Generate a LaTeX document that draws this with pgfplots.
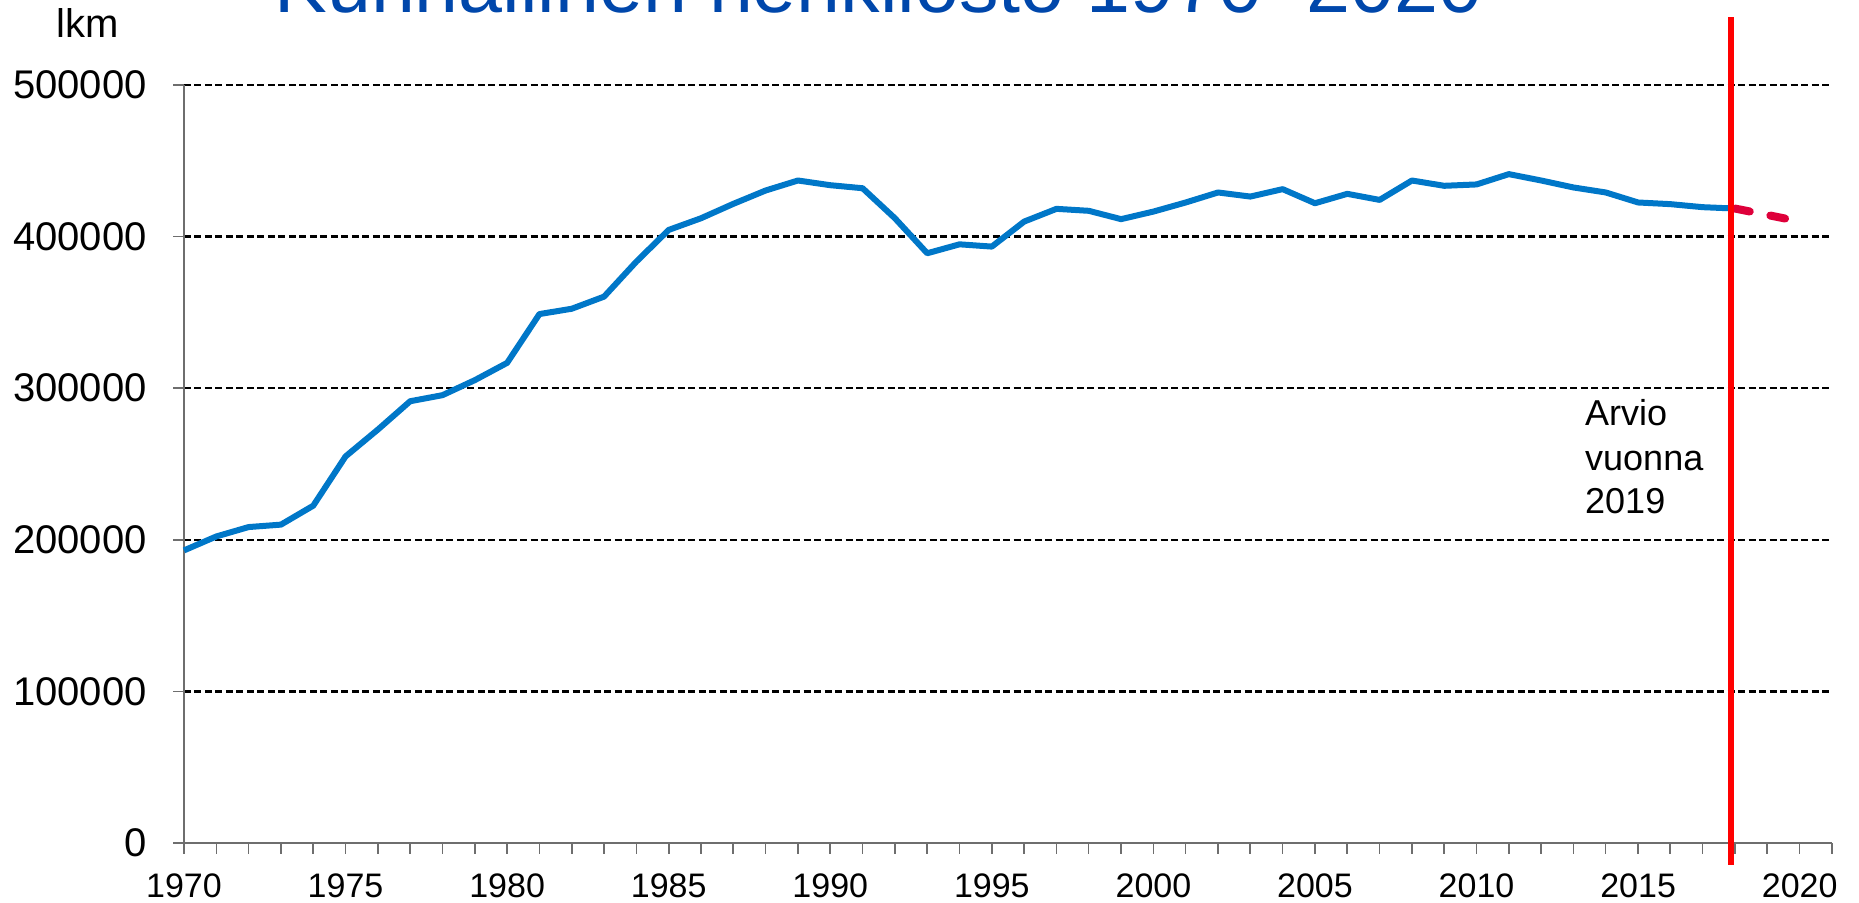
\documentclass[border=0pt]{standalone}
\usepackage{pgfplots}
\pgfplotsset{compat=1.18}
\usepackage{fontspec}
\setmainfont{Liberation Sans}
\definecolor{lineblue}{RGB}{0,119,200}
\definecolor{titleblue}{RGB}{0,71,171}
\definecolor{estred}{RGB}{222,0,58}
\definecolor{axgray}{RGB}{110,110,110}
\begin{document}
\begin{tikzpicture}
\begin{axis}[
  at={(0,0)}, anchor=south west,
  scale only axis, width=824pt, height=379pt,
  xmin=1970, xmax=2021, ymin=0, ymax=500000,
  axis x line*=bottom, axis y line*=left,
  axis line style={axgray, line width=0.8pt},
  xtick={1970,1975,...,2020},
  minor xtick={1971,...,2021},
  ytick={0,100000,...,500000},
  tick align=outside,
  major tick length=5.5pt, minor tick length=5.5pt,
  every tick/.style={axgray, line width=0.8pt},
  scaled y ticks=false,
  /pgf/number format/assume math mode=true,
  xticklabel={\pgfmathprintnumber[fixed,1000 sep={}]{\tick}},
  yticklabel={\pgfmathprintnumber[fixed,1000 sep={}]{\tick}},
  xticklabel style={font=\fontsize{17}{20}\selectfont, inner sep=0pt, anchor=north, yshift=-9.5pt},
  yticklabel style={font=\fontsize{20}{24}\selectfont, inner sep=0pt, anchor=east, xshift=-13pt},
  ymajorgrids, grid style={black, line width=1.2pt, dash pattern=on 3.5pt off 1.75pt},
  clip=false,
]
\addplot[lineblue, line width=3pt, line join=round] coordinates {
(1970,193000) (1971,202200) (1972,208400) (1973,210000) (1974,222500)
(1975,255000) (1976,272700) (1977,291400) (1978,295400) (1979,305300)
(1980,316700) (1981,348900) (1982,352400) (1983,360400) (1984,383500)
(1985,404400) (1986,412100) (1987,421600) (1988,430400) (1989,437000)
(1990,433900) (1991,431900) (1992,412100) (1993,389000) (1994,394900)
(1995,393400) (1996,409900) (1997,418300) (1998,417000) (1999,411500)
(2000,416500) (2001,422500) (2002,429100) (2003,426400) (2004,431300)
(2005,422000) (2006,428200) (2007,424200) (2008,437000) (2009,433500)
(2010,434400) (2011,441200) (2012,437000) (2013,432400) (2014,429100)
(2015,422500) (2016,421400) (2017,419400) (2018,418500)
};
\addplot[estred, line width=4pt, line cap=round, dash pattern=on 7.5pt off 10.5pt] coordinates {
(2018,418500) (2020,410000)
};
\addplot[red, line width=3pt] coordinates {(2017.88,-14500) (2017.88,545000)};
\node[anchor=base west, inner sep=0pt, font=\fontsize{18}{22}\selectfont] at (axis cs:2013.35,275700) {Arvio};
\node[anchor=base west, inner sep=0pt, font=\fontsize{18}{22}\selectfont] at (axis cs:2013.35,246000) {vuonna};
\node[anchor=base west, inner sep=0pt, font=\fontsize{18}{22}\selectfont] at (axis cs:2013.35,217600) {2019};
\end{axis}
\node[anchor=base west, inner sep=0pt, font=\fontsize{20}{24}\selectfont] at (-64pt,402.5pt) {lkm};
\node[anchor=base west, inner sep=0pt, text=titleblue, font=\fontsize{39.5}{46}\selectfont] at (45pt,415pt) {Kunnallinen henkilöstö 1970--2020};
\pgfresetboundingbox
\useasboundingbox (-92pt,-30pt) rectangle (837.5pt,421.5pt);
\end{tikzpicture}
\end{document}
